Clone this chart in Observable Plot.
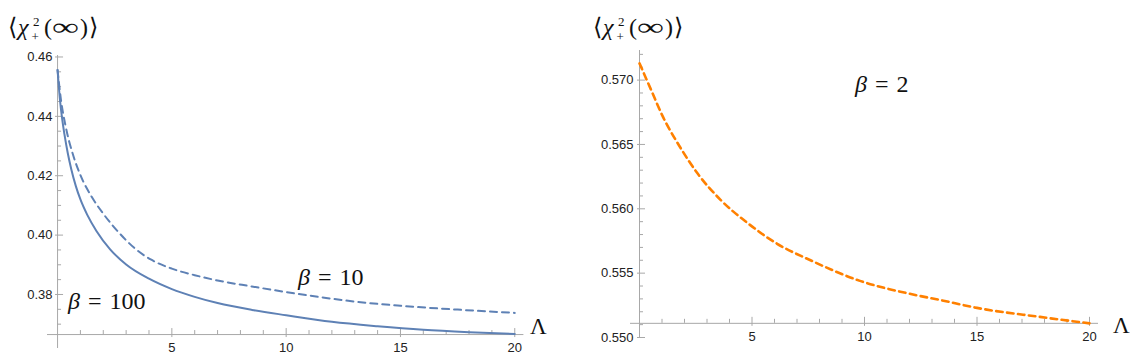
<!DOCTYPE html>
<html><head><meta charset="utf-8">
<script src="https://cdn.jsdelivr.net/npm/d3@7"></script>
<script src="https://cdn.jsdelivr.net/npm/@observablehq/plot@0.6"></script>
<style>
html,body{margin:0;padding:0;background:#fff;}
#wrap{position:relative;width:1134px;height:358px;overflow:hidden;background:#fff;}
#left,#right{position:absolute;top:0;}
#left{left:0;width:560px;} #right{left:560px;width:574px;}
</style>
</head><body>
<div id="wrap"><div id="left"></div><div id="right"></div></div>
<script>
// ---- data ----
const lambda100 = [0,0.1,0.2,0.3,0.45,0.6,0.8,1,1.3,1.7,2.3,3,4,5,6,7,8.5,10,12,14,16,18,20];
const chi100    = [0.4556,0.4460,0.4392,0.4340,0.4275,0.4222,0.4165,0.4120,0.4068,0.4014,0.3952,0.3901,0.3853,0.3818,0.3792,0.3771,0.3748,0.3730,0.3708,0.3693,0.3681,0.3673,0.3667];
const lambda10  = [0,0.15,0.35,0.7,1,1.5,2,2.7,3.4,4.1,5,6,7,8.5,10,11.5,13,15,17.5,20];
const chi10     = [0.4556,0.4455,0.4368,0.4265,0.4202,0.4128,0.4072,0.4007,0.3954,0.3917,0.3887,0.3865,0.3847,0.3827,0.3808,0.3791,0.3776,0.3762,0.3749,0.3738];
const lambda2   = [0,0.5,1,1.8,2.6,3.6,4.8,6.1,7.6,9.8,12,13.4,15,17.8,20];
const chi2      = [0.5713,0.5693,0.5673,0.5648,0.5627,0.5607,0.5589,0.5573,0.5560,0.5544,0.5534,0.5529,0.5523,0.5516,0.5511];

const xMajor = [5,10,15,20];
const xMajorLabels = ["5","10","15","20"];
const xMinor = [1,2,3,4,6,7,8,9,11,12,13,14,16,17,18,19];
const yMajorLeft = [0.38,0.40,0.42,0.44,0.46];
const yMajorLeftLabels = ["0.38","0.40","0.42","0.44","0.46"];
const yMinorLeft = [0.37,0.375,0.385,0.39,0.395,0.405,0.41,0.415,0.425,0.43,0.435,0.445,0.45,0.455];
const yMajorRight = [0.550,0.555,0.560,0.565,0.570];
const yMajorRightLabels = ["0.550","0.555","0.560","0.565","0.570"];
const yMinorRight = [0.551,0.552,0.553,0.554,0.556,0.557,0.558,0.559,0.561,0.562,0.563,0.564,0.566,0.567,0.568,0.569,0.571,0.572];

const series100 = lambda100.map((x,i)=>({x, y: chi100[i]}));
const series10  = lambda10.map((x,i)=>({x, y: chi10[i]}));
const series2   = lambda2.map((x,i)=>({x, y: chi2[i]}));

const axisCol = "#a8a8a8";
const blue = "#5e81b5";
const orange = "#ff8000";
const serif = "'Liberation Serif','Times New Roman',serif";

function panel(o) {
  const pxX = (o.xDomain[1]-o.xDomain[0])/(o.width-o.ml-o.mr);
  const pxY = (o.yDomain[1]-o.yDomain[0])/(o.height-o.mt-o.mb);
  const xm = o.xMajor.map((v,i)=>({v, t:o.xLabels[i]}));
  const ym = o.yMajor.map((v,i)=>({v, t:o.yLabels[i]}));
  return Plot.plot({
    width: o.width, height: o.height,
    marginLeft: o.ml, marginRight: o.mr, marginTop: o.mt, marginBottom: o.mb,
    x: {domain: o.xDomain, axis: null},
    y: {domain: o.yDomain, axis: null},
    style: {fontFamily: "'Liberation Sans', Arial, sans-serif", fontSize: "13px", color: "#222", background: "#fff", overflow: "visible", maxWidth: "none"},
    marks: [
      Plot.ruleY([o.axisY], {x1: o.xDomain[0], x2: o.xDomain[1], stroke: axisCol, strokeWidth: 1}),
      Plot.ruleX([0], {y1: o.yDomain[0], y2: o.yDomain[1], stroke: axisCol, strokeWidth: 1}),
      Plot.ruleX(o.xMajor, {x: d=>d, y1: o.axisY - 3*pxY, y2: o.axisY + 6*pxY, stroke: axisCol}),
      Plot.ruleX(o.xMinor, {x: d=>d, y1: o.axisY, y2: o.axisY + 4*pxY, stroke: axisCol}),
      Plot.ruleY(o.yMajor, {y: d=>d, x1: -2*pxX, x2: 6*pxX, stroke: axisCol}),
      Plot.ruleY(o.yMinor, {y: d=>d, x1: 0, x2: 4*pxX, stroke: axisCol}),
      Plot.text(xm, {x: "v", y: o.axisY, text: "t", dy: 13, fill: "#222"}),
      Plot.text(ym, {x: 0, y: "v", text: "t", textAnchor: "end", dx: o.ydx, fill: "#222"}),
      ...o.lines
    ]
  });
}

function addLabels(svg, items) {
  const s = d3.select(svg);
  for (const it of items) it(s);
}
function txt(s, x, y, size, str, extra) {
  const t = s.append("text").attr("x", x).attr("y", y).attr("text-anchor", "start")
    .attr("font-family", serif).attr("font-size", size).attr("fill", "#111").text(str);
  if (extra) extra(t);
  return t;
}
function yTitle(x0) {
  return s => {
    const g = s.append("g").attr("transform", `translate(${x0},0)`);
    txt(g, 0, 35, 24, "⟨");
    txt(g, 10, 35, 24, "χ", t => t.attr("font-style", "italic"));
    txt(g, 25, 26, 13, "2");
    txt(g, 23.5, 41, 13, "+");
    txt(g, 36, 35, 24, "(");
    txt(g, 44, 35, 24, "∞", t => t.attr("textLength", 27).attr("lengthAdjust", "spacingAndGlyphs"));
    txt(g, 72, 35, 24, ")");
    txt(g, 81, 35, 24, "⟩");
  };
}
function betaLabel(x, y, val) {
  return s => {
    const t = s.append("text").attr("x", x).attr("y", y).attr("text-anchor", "start")
      .attr("font-family", serif).attr("font-size", 24).attr("fill", "#111");
    t.append("tspan").attr("font-style", "italic").text("β");
    t.append("tspan").text("\u2004=\u2004" + val);
  };
}
function lambdaLabel(x, y) {
  return s => txt(s, x, y, 23, "Λ");
}

const left = panel({
  width: 560, height: 358, ml: 47, mr: 36.6, mt: 55, mb: 10,
  xDomain: [-0.44, 20.4], yDomain: [0.3618, 0.4605], axisY: 0.3665, ydx: -5,
  xMajor, xLabels: xMajorLabels, xMinor,
  yMajor: yMajorLeft, yLabels: yMajorLeftLabels, yMinor: yMinorLeft,
  lines: [
    Plot.line(series10, {x: "x", y: "y", stroke: blue, strokeWidth: 2, strokeDasharray: "7,5", curve: "monotone-x"}),
    Plot.line(series100, {x: "x", y: "y", stroke: blue, strokeWidth: 2, curve: "monotone-x"})
  ]
});
addLabels(left, [yTitle(8), betaLabel(68, 309, "100"), betaLabel(298, 285, "10"), lambdaLabel(530, 334)]);
document.getElementById("left").appendChild(left);

const right = panel({
  width: 574, height: 358, ml: 70, mr: 36, mt: 50, mb: 21,
  xDomain: [-0.4, 20.4], yDomain: [0.550, 0.5723], axisY: 0.5511, ydx: -6,
  xMajor, xLabels: xMajorLabels, xMinor,
  yMajor: yMajorRight, yLabels: yMajorRightLabels, yMinor: yMinorRight,
  lines: [
    Plot.line(series2, {x: "x", y: "y", stroke: orange, strokeWidth: 2.6, strokeDasharray: "6.5,4.5", curve: "monotone-x"})
  ]
});
addLabels(right, [yTitle(33), betaLabel(295, 92, "2"), lambdaLabel(553, 333)]);
document.getElementById("right").appendChild(right);
</script>
</body></html>
